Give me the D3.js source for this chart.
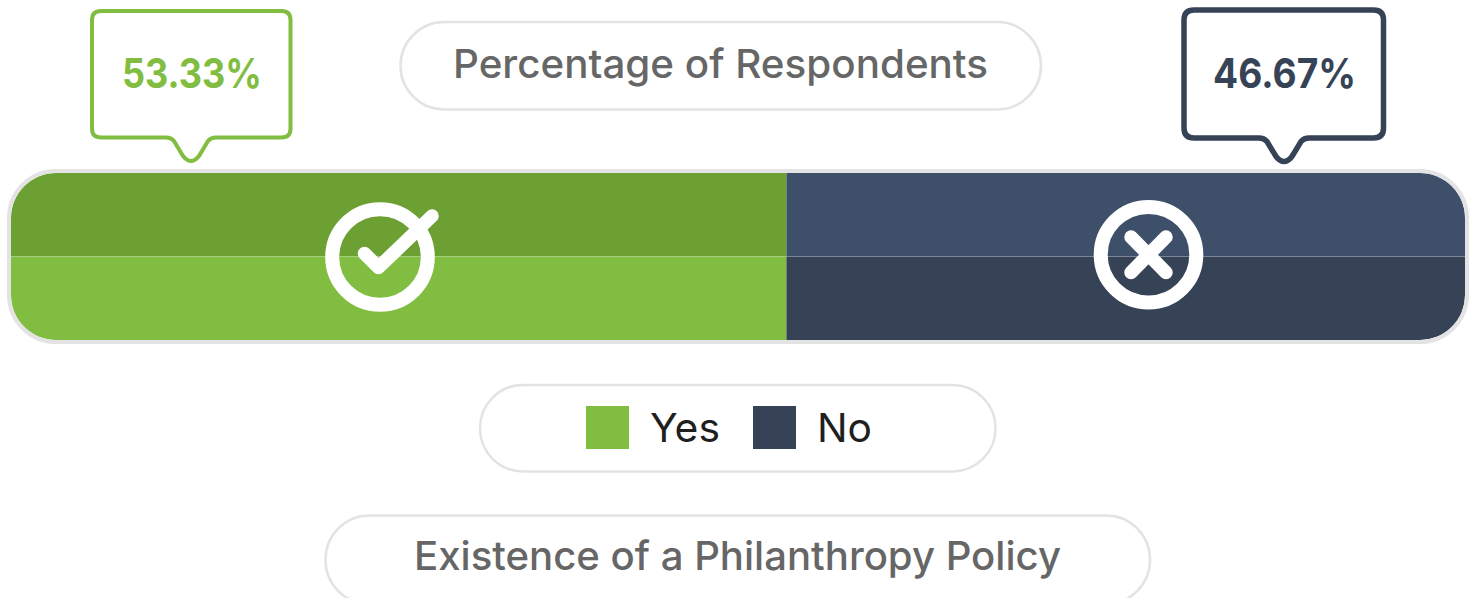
<!DOCTYPE html>
<html><head><meta charset="utf-8">
<script src="https://cdnjs.cloudflare.com/ajax/libs/d3/7.9.0/d3.min.js"></script>
<style>html,body{margin:0;padding:0;background:#fff;overflow:hidden}svg{display:block}text{font-family:Inter,"Noto Sans",sans-serif}</style>
</head><body><svg id="c" width="1475" height="598"></svg>
<script>
const categories = ["Yes","No"];
const values = [53.33,46.67];
const valueLabels = ["53.33%","46.67%"];
const topColors = ["#6da033","#3e5069"];
const bottomColors = ["#80bd41","#364357"];
const titleText = "Percentage of Respondents";
const axisText = "Existence of a Philanthropy Policy";

const svg = d3.select("#c");
const x = d3.scaleLinear().domain([0,100]).range([11,1465]);
const y = d3.scaleBand().domain(["top","bottom"]).range([173,340]);
const stack = d3.stack().keys(categories)([Object.fromEntries(categories.map((c,i)=>[c,values[i]]))]);
const GRAY="#e3e3e3";

function pill(x0,y0,x1,y1,r){
  svg.append("rect").attr("x",x0).attr("y",y0).attr("width",x1-x0).attr("height",y1-y0)
    .attr("rx",r).attr("fill","#fff").attr("stroke",GRAY).attr("stroke-width",2.5);
}
function label(t,x0,x1,base,size,weight,fill){
  svg.append("text").attr("x",x0).attr("y",base).attr("font-size",size).attr("font-weight",weight)
    .attr("fill",fill).attr("textLength",x1-x0).attr("lengthAdjust","spacingAndGlyphs").text(t);
}

// title + axis pills
pill(400.5,22,1041,109.5,43.7);
label(titleText,453,988,78,40,500,"#666666");
pill(325.5,515.5,1150,604,44);
label(axisText,414,1061,570,40,500,"#666666");

// bar
svg.append("defs").append("clipPath").attr("id","bar").append("rect")
  .attr("x",11).attr("y",173).attr("width",1454).attr("height",167).attr("rx",45);
const g = svg.append("g").attr("clip-path","url(#bar)");
stack.forEach((s,i)=>{
  const d=s[0];
  g.append("rect").attr("x",x(d[0])).attr("width",x(d[1])-x(d[0])).attr("y",y("top")).attr("height",y.bandwidth()).attr("fill",topColors[i]);
  g.append("rect").attr("x",x(d[0])).attr("width",x(d[1])-x(d[0])).attr("y",y("bottom")).attr("height",y.bandwidth()).attr("fill",bottomColors[i]);
});
g.append("line").attr("x1",11).attr("x2",1465).attr("y1",256.5).attr("y2",256.5).attr("stroke","#fff").attr("stroke-opacity",.13);
svg.append("rect").attr("x",9).attr("y",171).attr("width",1458).attr("height",171).attr("rx",47)
  .attr("fill","none").attr("stroke",GRAY).attr("stroke-width",4);

// callouts
function callout(x0,y0,x1,y1,cx,tip,r,sw,col){
  const hw=25, p=d3.path();
  p.moveTo(x0+r,y0); p.lineTo(x1-r,y0); p.quadraticCurveTo(x1,y0,x1,y0+r);
  p.lineTo(x1,y1-r); p.quadraticCurveTo(x1,y1,x1-r,y1);
  p.lineTo(cx+hw,y1); p.quadraticCurveTo(cx+hw-5,y1,cx+hw-8,y1+3.5);
  p.lineTo(cx+8,tip-5); p.quadraticCurveTo(cx,tip+5,cx-8,tip-5);
  p.lineTo(cx-hw+8,y1+3.5); p.quadraticCurveTo(cx-hw+5,y1,cx-hw,y1);
  p.lineTo(x0+r,y1); p.quadraticCurveTo(x0,y1,x0,y1-r);
  p.lineTo(x0,y0+r); p.quadraticCurveTo(x0,y0,x0+r,y0); p.closePath();
  svg.append("path").attr("d",p.toString()).attr("fill","#fff").attr("stroke",col).attr("stroke-width",sw);
}
callout(92,11,290.5,137.5,191,161,9,4,bottomColors[0]);
label(valueLabels[0],122,262,88,41,700,bottomColors[0]);
callout(1184,10,1383.5,138,1284,161.5,10,5.5,bottomColors[1]);
label(valueLabels[1],1213,1356,88,41,700,bottomColors[1]);

// icons
const ic = svg.append("g").attr("fill","none").attr("stroke","#fff").attr("stroke-linecap","round").attr("stroke-linejoin","round");
ic.append("circle").attr("cx",380).attr("cy",257).attr("r",47.8).attr("stroke-width",14);
ic.append("path").attr("d","M364.5 253.5L378.5 267.5L432 216").attr("stroke-width",13.5);
ic.append("circle").attr("cx",1148.5).attr("cy",254.7).attr("r",47.8).attr("stroke-width",14);
ic.append("path").attr("d","M1131 237L1166 272.5M1166 237L1131 272.5").attr("stroke-width",13.5);

// legend
pill(480,385,995.5,471.5,43);
const legendX=[586,753], legendTextX=[[650,720],[817,872]];
categories.forEach((c,i)=>{
  svg.append("rect").attr("x",legendX[i]).attr("y",406).attr("width",43).attr("height",43).attr("fill",bottomColors[i]);
  label(c,legendTextX[i][0],legendTextX[i][1],442,40,400,"#1f1f1f");
});
</script></body></html>
